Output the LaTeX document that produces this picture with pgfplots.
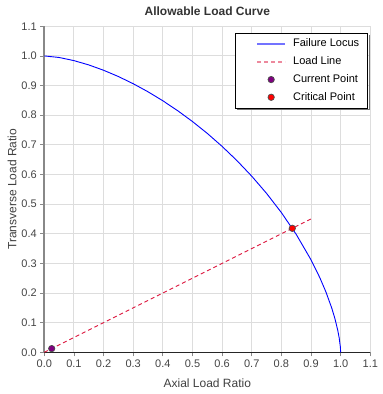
\documentclass[border=0pt]{standalone}
\usepackage{fontspec}
\setmainfont{Liberation Sans}
\usepackage{pgfplots}
\pgfplotsset{compat=1.18}
\definecolor{gridgray}{HTML}{DDDDDD}
\definecolor{axgray}{HTML}{888888}
\definecolor{txt}{HTML}{444444}
\definecolor{crim}{HTML}{DC143C}
\definecolor{purp}{HTML}{800080}
\begin{document}
\begin{tikzpicture}[x=1pt,y=1pt]
\useasboundingbox (0,0) rectangle (383,394);
\begin{axis}[
  at={(44.3pt,41.7pt)}, anchor=origin,
  scale only axis, width=326pt, height=326pt,
  xmin=0, xmax=1.1, ymin=0, ymax=1.1,
  xtick={0,0.1,...,1.1}, ytick={0,0.1,...,1.1},
  xticklabel style={/pgf/number format/.cd, fixed, fixed zerofill, precision=1},
  yticklabel style={/pgf/number format/.cd, fixed, fixed zerofill, precision=1},
  /pgf/number format/assume math mode=true,
  ticklabel style={font=\fontsize{11}{13}\selectfont, text=txt},
  axis x line=bottom, axis y line=left,
  axis line style={-},
  x axis line style={draw=black!85, line width=0.9pt},
  y axis line style={draw=axgray, line width=1.6pt},
  tick style={draw=axgray, line width=0.8pt},
  tick align=outside, major tick length=4pt,
  xtick pos=bottom, ytick pos=left,
  grid=major, major grid style={draw=gridgray, line width=0.9pt},
  title={Allowable Load Curve},
  title style={font=\bfseries\fontsize{12}{14}\selectfont, text=black!80, at={(0.5,1.0266)}, anchor=center},
  xlabel={Axial Load Ratio}, ylabel={Transverse Load Ratio},
  xlabel style={font=\fontsize{12}{14}\selectfont, text=black!75, at={(0.5,-0.094)}, anchor=center},
  ylabel style={font=\fontsize{12}{14}\selectfont, text=black!75, at={(-0.099,0.5)}, anchor=center},
  legend style={at={(0.992,0.980)}, anchor=north east, draw=black, line width=1pt, fill=white,
    font=\fontsize{11}{13}\selectfont, row sep=0pt, inner xsep=4.5pt, inner ysep=2pt,
    nodes={text height=8pt, text depth=2.5pt, inner ysep=3.6pt, inner xsep=3.5pt}},
  legend cell align=left,
  legend image code/.code={%
    \path (0pt,0pt) (49pt,0pt);
    \draw[mark repeat=2,mark phase=2,#1] plot coordinates {(17pt,0pt) (31pt,0pt) (45pt,0pt)};},
  clip=false,
]
\addplot[draw=blue, line width=0.9pt,
  legend image code/.code={\path (0pt,0pt) (49pt,0pt); \draw[draw=blue!55, line width=1.6pt] (17pt,0pt) -- (45pt,0pt);}] coordinates {
(0,1) (0.05,0.99482) (0.1,0.98423) (0.15,0.96969) (0.2,0.95170) (0.25,0.93053)
(0.3,0.90626) (0.35,0.87903) (0.4,0.84873) (0.45,0.81529) (0.5,0.77866)
(0.55,0.73860) (0.6,0.69476) (0.65,0.64683) (0.7,0.59426) (0.75,0.53617)
(0.8,0.47143) (0.85,0.39799) (0.9,0.31206) (0.93,0.25116) (0.95,0.20431)
(0.97,0.14906) (0.98,0.11586) (0.99,0.07527) (0.995,0.04887) (0.999,0.01789) (1.0,0)};
\addlegendentry{Failure Locus}
\addplot[draw=crim, line width=0.9pt, dash pattern=on 4pt off 3pt,
  legend image code/.code={\path (0pt,0pt) (49pt,0pt); \draw[draw=crim!50, line width=1.6pt, dash pattern=on 4pt off 3pt] (17pt,0pt) -- (45pt,0pt);}] coordinates {(0,0) (0.9,0.45)};
\addlegendentry{Load Line}
\addplot[only marks, mark=*, mark size=3.2pt, mark options={fill=purp, draw=black!70, line width=0.7pt}] coordinates {(0.025,0.0125)};
\addlegendentry{Current Point}
\addplot[only marks, mark=*, mark size=3.2pt, mark options={fill=red, draw=black!70, line width=0.7pt}] coordinates {(0.8368,0.4184)};
\addlegendentry{Critical Point}
\draw[black!55, line width=1.6pt] (rel axis cs:0.992,0.980) ++(1.8pt,-2.5pt) |- ++(-132pt,-74pt);
\end{axis}
\end{tikzpicture}
\end{document}
